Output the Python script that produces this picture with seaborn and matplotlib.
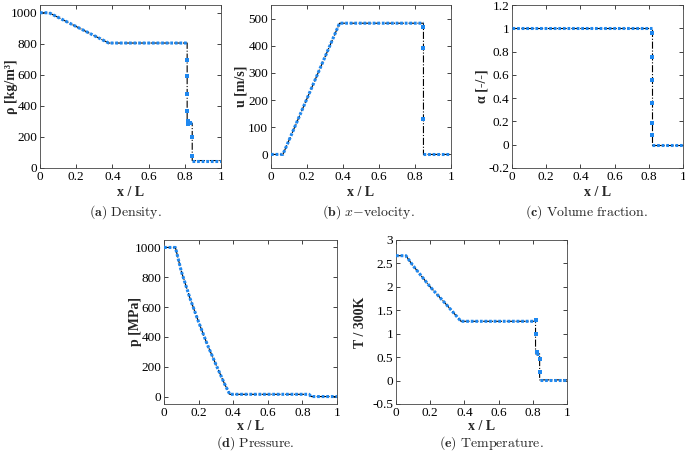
import numpy as np
import pandas as pd
import matplotlib
matplotlib.use("Agg")
import matplotlib.pyplot as plt
import seaborn as sns

sns.set_theme(style="ticks")
plt.rcParams["font.family"] = ["Liberation Serif", "DejaVu Serif"]
plt.rcParams["mathtext.fontset"] = "cm"

# ---- exact solution (black dash-dot), breakpoints --------------------------
rho_x = [0.0, 0.05, 0.38, 0.813, 0.813, 0.841, 0.841, 1.0]
rho_y = [1000, 1000, 805, 805, 287, 287, 48, 48]
u_x = [0.0, 0.066, 0.381, 0.847, 0.847, 1.0]
u_y = [0, 0, 483, 483, 0, 0]
a_x = [0.0, 0.817, 0.817, 1.0]
a_y = [1.0, 1.0, 0.0, 0.0]
p_x = [0.0, 0.066, 0.1, 0.15, 0.2, 0.25, 0.3, 0.35, 0.38, 0.838, 0.85, 1.0]
p_y = [1000, 1000, 840, 660, 500, 350, 215, 85, 15, 15, 0, 0]
t_x = [0.0, 0.058, 0.1, 0.2, 0.3, 0.38, 0.816, 0.816, 0.84, 0.84, 1.0]
t_y = [2.665, 2.665, 2.45, 2.0, 1.6, 1.265, 1.265, 0.57, 0.57, 0.015, 0.015]

# ---- numerical cells inside the jumps (blue markers) -----------------------
rho_sx = [0.813, 0.813, 0.813, 0.813, 0.815, 0.817, 0.826, 0.841, 0.841]
rho_sy = [695, 595, 475, 370, 300, 285, 287, 200, 80]
u_sx = [0.847, 0.847, 0.847]
u_sy = [470, 390, 130]
a_sx = [0.817, 0.817, 0.817, 0.817, 0.817, 0.817]
a_sy = [0.96, 0.75, 0.56, 0.36, 0.19, 0.08]
p_sx = []
p_sy = []
t_sx = [0.816, 0.818, 0.826, 0.84, 0.84]
t_sy = [1.29, 1.0, 0.6, 0.47, 0.19]

ylabels = ["ρ [kg/m³]", "u [m/s]", "α [-/-]", "p [MPa]", "T / 300K"]
captions = [r"$\mathbf{(a)}\ \mathrm{Density.}$",
            r"$\mathbf{(b)}\ x\mathrm{-velocity.}$",
            r"$\mathbf{(c)}\ \mathrm{Volume\ fraction.}$",
            r"$\mathbf{(d)}\ \mathrm{Pressure.}$",
            r"$\mathbf{(e)}\ \mathrm{Temperature.}$"]
ylims = [(0, 1050), (-50, 550), (-0.2, 1.2), (-50, 1050), (-0.5, 3)]
yticks = [[0, 200, 400, 600, 800, 1000],
          [0, 100, 200, 300, 400, 500],
          [-0.2, 0, 0.2, 0.4, 0.6, 0.8, 1, 1.2],
          [0, 200, 400, 600, 800, 1000],
          [-0.5, 0, 0.5, 1, 1.5, 2, 2.5, 3]]

exact = [(rho_x, rho_y), (u_x, u_y), (a_x, a_y), (p_x, p_y), (t_x, t_y)]
shock = [(rho_sx, rho_sy), (u_sx, u_sy), (a_sx, a_sy), (p_sx, p_sy), (t_sx, t_sy)]

W, H = 685, 453
fig = plt.figure(figsize=(W / 100, H / 100), dpi=100)

# axes boxes in pixels: left, top, right, bottom
boxes = [(40, 5, 221, 168), (271, 5, 451, 168), (512, 5, 683, 168),
         (164, 240, 337, 404), (396, 240, 567, 404)]
ylabel_x = [11, 241, 482, 135, 360]   # pixel x of y-label centre
xlabel_dy = [25, 25, 25, 22, 22]      # pixel gap axes bottom -> x-label centre
cap_pos = [(125, 212), (368, 212), (587, 212), (255, 443), (491, 443)]

blue = "#1f88f0"

for i, (l, t, r, b) in enumerate(boxes):
    ax = fig.add_axes([l / W, 1 - b / H, (r - l) / W, (b - t) / H])
    ex, ey = exact[i]
    df = pd.DataFrame({"x": ex, "y": ey})
    seg = [0]
    for k in range(1, len(ex)):
        seg.append(seg[-1] + (1 if ex[k] == ex[k - 1] else 0))
    df["seg"] = seg
    sns.lineplot(data=df, x="x", y="y", estimator=None, sort=False, ax=ax,
                 color="black", linewidth=0.8, linestyle="-.", zorder=2)
    # numerical solution: dotted blue, broken at the vertical jumps
    for s, g in df.groupby("seg"):
        sns.lineplot(data=g, x="x", y="y", estimator=None, sort=False, ax=ax,
                     color=blue, linewidth=2.2, linestyle=(0, (0.9, 0.6)),
                     zorder=3)
    sx, sy = shock[i]
    if sx:
        sns.scatterplot(x=sx, y=sy, ax=ax, color=blue, marker="s", s=9,
                        linewidth=0, zorder=4)
    ax.set_xlim(0, 1)
    ax.set_ylim(*ylims[i])
    ax.set_xticks([0, 0.2, 0.4, 0.6, 0.8, 1])
    ax.set_xticklabels(["0", "0.2", "0.4", "0.6", "0.8", "1"])
    ax.set_yticks(yticks[i])
    ax.set_yticklabels([f"{v:g}" for v in yticks[i]])
    ax.tick_params(direction="in", top=True, right=True, labelsize=9.5,
                   length=3, width=0.6, pad=2, colors="#222222",
                   labelcolor="black")
    for sp in ax.spines.values():
        sp.set_linewidth(0.6)
        sp.set_color("#444444")
    ax.set_xlabel("x / L", fontsize=10, fontweight="bold")
    ax.set_ylabel(ylabels[i], fontsize=10, fontweight="bold")
    ax.xaxis.set_label_coords(0.5, -xlabel_dy[i] / (b - t))
    ax.xaxis.label.set_va("center")
    ax.yaxis.set_label_coords((ylabel_x[i] - l) / (r - l), 0.5)
    ax.yaxis.label.set_va("center")
    cx, cy = cap_pos[i]
    fig.text(cx / W, 1 - cy / H, captions[i], ha="center", va="center",
             fontsize=10)

fig.savefig("out.png", dpi=100)
